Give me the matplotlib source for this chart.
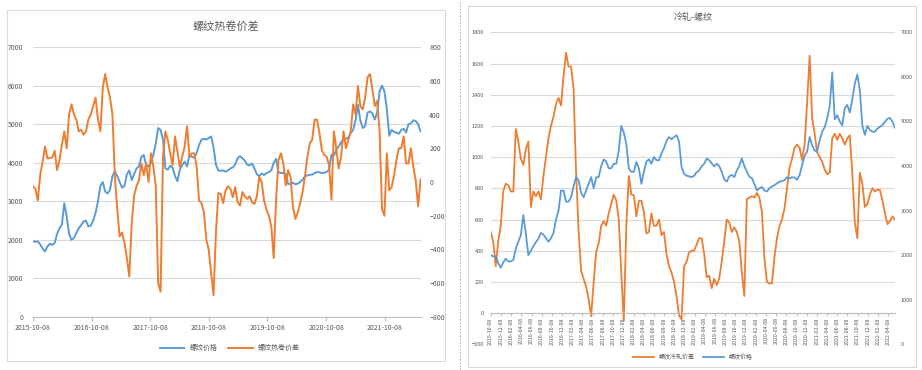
import matplotlib
matplotlib.use('Agg')
import matplotlib.pyplot as plt
from matplotlib.lines import Line2D
import numpy as np
import pandas as pd

plt.rcParams['font.family'] = ['Noto Sans CJK SC', 'DejaVu Sans']

BLUE = '#5B9BD5'
ORANGE = '#ED7D31'
GRID = '#D9D9D9'
TXT = '#595959'

# 15-day samples, 2015-10-08 .. 2022-05
dates = pd.date_range('2015-10-08', periods=162, freq='15D')

# left chart: rebar price (left axis) and rebar - hot coil spread (right axis)
rebar_l = [1960, 1950, 1960, 1880, 1770, 1700, 1830, 1900, 1870, 1920,
           2150, 2300, 2400, 2950, 2600, 2150, 2000, 2050, 2180, 2300,
           2380, 2480, 2500, 2350, 2370, 2500, 2700, 3000, 3400, 3500,
           3250, 3200, 3300, 3650, 3780, 3650, 3500, 3350, 3400, 3700,
           3800, 3550, 3700, 3850, 3900, 4150, 4200, 3950, 3900, 4000,
           4200, 4500, 4900, 4850, 4600, 3850, 3820, 3920, 3870, 3650,
           3520, 3820, 3940, 4030, 3900, 4200, 4150, 4130, 4250, 4460,
           4600, 4620, 4600, 4640, 4680, 4400, 3950, 3800, 3790, 3800,
           3770, 3800, 3850, 3880, 3950, 4120, 4170, 4120, 4050, 3950,
           3930, 3980, 3850, 3700, 3650, 3720, 3680, 3730, 3760, 3800,
           4000, 4100, 3750, 3730, 3740, 3700, 3450, 3450, 3480, 3440,
           3460, 3500, 3560, 3650, 3670, 3690, 3690, 3730, 3760, 3750,
           3730, 3740, 3760, 3820, 4210, 4180, 4330, 4420, 4530, 4600,
           4620, 4650, 4770, 4850, 5100, 5500, 5100, 4900, 4950, 5300,
           5330, 5280, 5120, 5300, 5850, 6000, 5850, 5400, 4700, 4850,
           4800, 4780, 4750, 4850, 4880, 4780, 5000, 5020, 5100, 5080,
           5000, 4810]
spread_hr = [-26, -40, -110, 44, 120, 210, 140, 143, 145, 185,
             70, 130, 220, 300, 200, 400, 460, 400, 370, 300,
             310, 280, 300, 370, 400, 450, 500, 370, 300, 560,
             640, 560, 500, 400, 34, -160, -323, -300, -360, -450,
             -560, -250, -80, -25, 10, 110, 40, 110, 0, 170,
             90, -20, -600, -650, 150, 300, 250, 170, 100, 270,
             180, 90, 150, 210, 330, 150, 170, 170, 90, -110,
             -125, -180, -340, -400, -540, -670, -300, -65, -70, -125,
             -50, -25, -40, -90, -30, -120, -140, -60, -85, -100,
             -85, -120, -130, -85, 30, 0, -110, -164, -200, -263,
             -450, -100, 130, 170, 110, -20, 70, 30, -145, -220,
             -180, -125, -60, 34, 150, 230, 250, 370, 370, 290,
             190, 160, 150, 100, -105, 300, 200, 80, 150, 300,
             200, 250, 300, 460, 400, 570, 450, 430, 500, 620,
             640, 550, 450, 480, 300, -160, -200, 170, -50, -30,
             40, 130, 200, 200, 270, 110, 110, 200, 90, 10,
             -145, 15]

# right chart: cold rolled - rebar spread (left axis) and rebar price (right axis)
spread_cr = [520, 460, 300, 460, 560, 780, 830, 820, 780, 780,
             1180, 1100, 990, 950, 1050, 1100, 680, 780, 750, 780,
             730, 880, 1000, 1120, 1200, 1260, 1340, 1380, 1330, 1520,
             1670, 1580, 1580, 1440, 900, 530, 270, 220, 170, 90,
             -20, 200, 390, 450, 560, 590, 560, 640, 700, 760,
             720, 600, 260, -50, 560, 880, 760, 755, 620, 720,
             720, 650, 510, 520, 640, 560, 560, 600, 500, 520,
             380, 300, 260, 200, 110, -15, -40, 300, 330, 390,
             400, 400, 440, 480, 480, 380, 230, 240, 160, 220,
             180, 220, 330, 460, 600, 580, 520, 550, 520, 460,
             260, 110, 730, 740, 750, 740, 770, 740, 650, 350,
             200, 190, 190, 360, 480, 560, 600, 670, 800, 930,
             990, 1060, 1080, 1060, 980, 1080, 1350, 1650, 1250, 1150,
             1030, 1000, 970, 920, 890, 900, 1120, 1150, 1110, 1150,
             1120, 1080, 1120, 1140, 900, 580, 480, 900, 830, 680,
             700, 760, 800, 780, 790, 790, 720, 640, 570, 590,
             620, 600]
rebar_r = [2005, 1970, 1980, 1820, 1720, 1840, 1920, 1860, 1860, 1890,
           2150, 2300, 2450, 2900, 2480, 2000, 2100, 2200, 2290, 2370,
           2500, 2460, 2380, 2300, 2380, 2500, 2800, 3000, 3450, 3450,
           3200, 3200, 3300, 3550, 3750, 3680, 3400, 3300, 3450, 3600,
           3750, 3500, 3750, 3750, 4000, 4150, 4100, 3950, 3950, 4050,
           4050, 4350, 4900, 4750, 4500, 3945, 3870, 3870, 4090, 3950,
           3600, 3870, 4100, 4150, 4050, 4200, 4130, 4130, 4280, 4400,
           4560, 4650, 4600, 4650, 4690, 4550, 3980, 3830, 3780, 3770,
           3750, 3780, 3860, 3900, 3990, 4050, 4170, 4130, 4060, 3990,
           4050, 4000, 3870, 3700, 3650, 3770, 3800, 3750, 3900, 4000,
           4170, 4000, 3870, 3760, 3730, 3600, 3450, 3500, 3530, 3450,
           3430, 3500, 3540, 3570, 3610, 3650, 3660, 3680, 3750, 3720,
           3750, 3740, 3690, 3800, 4020, 4230, 4320, 4650, 4470, 4350,
           4320, 4580, 4770, 4870, 5070, 5350, 6100, 5050, 5140, 5000,
           4910, 5300, 5370, 5200, 5500, 5850, 6050, 5700, 4900, 4700,
           4900, 4810, 4770, 4770, 4840, 4880, 4920, 4990, 5060, 5080,
           4990, 4860]

year_ticks = pd.to_datetime(['2015-10-08', '2016-10-08', '2017-10-08', '2018-10-08',
                             '2019-10-08', '2020-10-08', '2021-10-08'])
month_ticks = pd.date_range('2015-10-01', '2022-04-01', freq='2MS') + pd.Timedelta(days=7)

W, H = 922, 370
fig = plt.figure(figsize=(W / 100, H / 100), dpi=100)


def style(ax, size):
    for s in ['top', 'left', 'right']:
        ax.spines[s].set_visible(False)
    ax.tick_params(axis='y', length=0, labelsize=size, labelcolor=TXT)


# ---- left chart
ax1 = fig.add_axes([33 / W, 1 - 317 / H, 388 / W, 270 / H])
l1, = ax1.plot(dates, rebar_l, color=BLUE, lw=1.4, label='螺纹价格')
ax1.set_ylim(0, 7000)
ax1.set_yticks(np.arange(0, 7001, 1000))
ax1.set_xlim(dates[0], dates[0] + pd.Timedelta(days=2418))
ax1.set_xticks(year_ticks)
ax1.set_xticklabels([d.strftime('%Y-%m-%d') for d in year_ticks])
ax1.grid(axis='y', color=GRID, lw=0.8)
style(ax1, 5)
ax1.spines['bottom'].set_color('#BFBFBF')
ax1.tick_params(axis='x', length=3, color='#BFBFBF', labelsize=5, labelcolor=TXT, pad=2)
ax1.tick_params(axis='y', pad=7)

ax1b = ax1.twinx()
l2, = ax1b.plot(dates, spread_hr, color=ORANGE, lw=1.4, label='螺纹热卷价差')
ax1b.set_ylim(-800, 800)
ax1b.set_yticks(np.arange(-800, 801, 200))
style(ax1b, 5)
ax1b.spines['bottom'].set_visible(False)
ax1b.tick_params(axis='y', pad=6)

fig.legend(handles=[l1, l2], loc='center', bbox_to_anchor=(230 / W, 1 - 348 / H),
           ncol=2, frameon=False, fontsize=5, handlelength=3.5, columnspacing=1.5,
           labelcolor=TXT)
fig.text(226 / W, 1 - 26 / H, '螺纹热卷价差', ha='center', va='center', fontsize=8, color=TXT)

# ---- right chart
ax2 = fig.add_axes([490.7 / W, 1 - 344.3 / H, 404.3 / W, 312 / H])
r1, = ax2.plot(dates, spread_cr, color=ORANGE, lw=1.3, label='螺纹冷轧价差')
ax2.set_ylim(-200, 1800)
ax2.set_yticks(np.arange(-200, 1801, 200))
ax2.set_xlim(dates[0], dates[0] + pd.Timedelta(days=2415))
ax2.grid(axis='y', color=GRID, lw=0.8)
style(ax2, 4)
ax2.spines['bottom'].set_position(('data', 0))
ax2.spines['bottom'].set_color('#BFBFBF')
ax2.set_xticks(month_ticks)
ax2.set_xticklabels([d.strftime('%Y-%m-%d') for d in month_ticks])
ax2.tick_params(axis='x', length=2, color='#BFBFBF', labelsize=3.8, labelcolor=TXT,
                pad=1, labelrotation=90)
ax2.tick_params(axis='y', pad=5)

ax2b = ax2.twinx()
r2, = ax2b.plot(dates, rebar_r, color=BLUE, lw=1.3, label='螺纹价格')
ax2b.set_ylim(0, 7000)
ax2b.set_yticks(np.arange(0, 7001, 1000))
style(ax2b, 4)
ax2b.spines['bottom'].set_visible(False)
ax2b.tick_params(axis='y', pad=4)

fig.legend(handles=[r1, r2], loc='center', bbox_to_anchor=(693 / W, 1 - 357 / H),
           ncol=2, frameon=False, fontsize=4.3, handlelength=3.5, columnspacing=1.5,
           labelcolor=TXT)
fig.text(693 / W, 1 - 17 / H, '冷轧-螺纹', ha='center', va='center', fontsize=6.5, color=TXT)

# panel frames and divider
fig.add_artist(plt.Rectangle((7 / W, 1 - 361 / H), 438 / W, 351 / H, transform=fig.transFigure,
                             fill=False, ec=GRID, lw=0.8))
fig.add_artist(plt.Rectangle((468 / W, 1 - 367 / H), 448 / W, 361 / H, transform=fig.transFigure,
                             fill=False, ec=GRID, lw=0.8))
fig.add_artist(Line2D([460 / W, 460 / W], [0, 1], transform=fig.transFigure,
                      ls=(0, (2, 2)), color='#A6A6A6', lw=0.6))

fig.savefig('out.png', dpi=100)
